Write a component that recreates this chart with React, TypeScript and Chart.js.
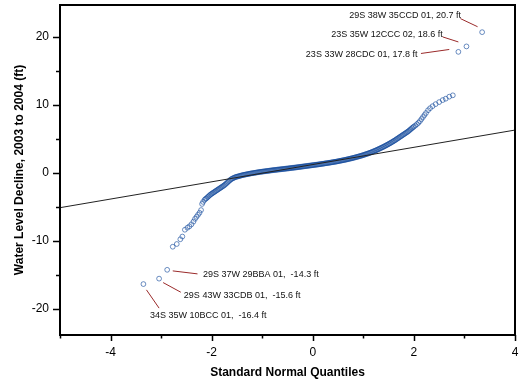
import React, { useEffect, useRef } from 'react';
import { Chart, registerables } from 'chart.js';

Chart.register(...registerables);

const quantilesX = [
  -3.35, -3.04, -2.88, -2.77, -2.69, -2.62, -2.58, -2.53, -2.48, -2.44, -2.40, -2.36, -2.33, -2.30,
  -2.27, -2.24, -2.21, -2.19, -2.17, -2.14, -2.12,
  -2.10, -2.08, -2.06, -2.04, -2.02, -2.00, -1.98, -1.96, -1.94, -1.92, -1.90, -1.88, -1.86, -1.84,
  -1.82, -1.80, -1.78, -1.76, -1.74, -1.72, -1.70, -1.68, -1.66,
  -1.64, -1.62, -1.60, -1.58, -1.56, -1.54, -1.52, -1.50, -1.48, -1.46, -1.44, -1.42, -1.40, -1.38,
  -1.36, -1.34, -1.32, -1.30, -1.28, -1.26, -1.24, -1.22, -1.20, -1.18, -1.16, -1.14, -1.12, -1.10,
  -1.08, -1.06, -1.04, -1.02, -1.00,
  -0.98, -0.96, -0.94, -0.92, -0.90, -0.88, -0.86, -0.84, -0.82, -0.80,
  -0.78, -0.76, -0.74, -0.72, -0.70, -0.68, -0.66, -0.64, -0.62, -0.60,
  -0.58, -0.56, -0.54, -0.52, -0.50, -0.48, -0.46, -0.44, -0.42, -0.40,
  -0.38, -0.36, -0.34, -0.32, -0.30, -0.28, -0.26, -0.24, -0.22, -0.20,
  -0.18, -0.16, -0.14, -0.12, -0.10, -0.08, -0.06, -0.04, -0.02, 0.00,
  0.02, 0.04, 0.06, 0.08, 0.10, 0.12, 0.14, 0.16, 0.18, 0.20,
  0.22, 0.24, 0.26, 0.28, 0.30, 0.32, 0.34, 0.36, 0.38, 0.40,
  0.42, 0.44, 0.46, 0.48, 0.50, 0.52, 0.54, 0.56, 0.58, 0.60,
  0.62, 0.64, 0.66, 0.68, 0.70, 0.72, 0.74, 0.76, 0.78, 0.80,
  0.82, 0.84, 0.86, 0.88, 0.90, 0.92, 0.94, 0.96, 0.98, 1.00,
  1.02, 1.04, 1.06, 1.08, 1.10, 1.12, 1.14, 1.16, 1.18, 1.20,
  1.22, 1.24, 1.26, 1.28, 1.30, 1.32, 1.34, 1.36, 1.38, 1.40,
  1.42, 1.44, 1.46, 1.48, 1.50, 1.52, 1.54, 1.56, 1.58, 1.60,
  1.62, 1.64, 1.66, 1.68, 1.70, 1.72, 1.74, 1.76, 1.78, 1.80,
  1.82, 1.84, 1.86, 1.88, 1.90, 1.92, 1.94, 1.96, 1.98, 2.00,
  2.03, 2.06, 2.09, 2.12, 2.15, 2.18, 2.21, 2.24, 2.28, 2.32, 2.37, 2.43, 2.50, 2.57, 2.63, 2.70,
  2.77, 2.88, 3.04, 3.35,
];
const declineY = [
  -16.4, -15.6, -14.3, -10.9, -10.5, -9.8, -9.4, -8.4, -8.1, -7.9, -7.6, -7.2, -6.8, -6.5,
  -6.2, -5.9, -5.5, -4.6, -4.3, -4.0, -3.85,
  -3.75, -3.6, -3.47, -3.33, -3.2, -3.1, -3.0, -2.9, -2.8, -2.7, -2.6, -2.5, -2.4, -2.3,
  -2.2, -2.1, -2.0, -1.9, -1.78, -1.65, -1.52, -1.38, -1.25,
  -1.12, -0.98, -0.90, -0.82, -0.75, -0.68, -0.62, -0.58, -0.55, -0.50, -0.46, -0.42, -0.38, -0.34,
  -0.31, -0.28, -0.25, -0.22, -0.19, -0.16, -0.13, -0.10, -0.08, -0.05, -0.03, 0.00, 0.02, 0.05,
  0.07, 0.10, 0.12, 0.14, 0.16,
  0.18, 0.20, 0.22, 0.24, 0.26, 0.28, 0.30, 0.32, 0.34, 0.36,
  0.38, 0.40, 0.41, 0.43, 0.45, 0.47, 0.48, 0.50, 0.52, 0.54,
  0.55, 0.57, 0.59, 0.61, 0.62, 0.64, 0.66, 0.68, 0.70, 0.72,
  0.73, 0.75, 0.77, 0.79, 0.81, 0.83, 0.85, 0.87, 0.89, 0.91,
  0.93, 0.95, 0.97, 0.99, 1.01, 1.03, 1.05, 1.07, 1.09, 1.11,
  1.13, 1.15, 1.17, 1.19, 1.21, 1.23, 1.25, 1.28, 1.30, 1.32,
  1.34, 1.37, 1.39, 1.41, 1.43, 1.46, 1.48, 1.51, 1.53, 1.56,
  1.58, 1.61, 1.63, 1.66, 1.69, 1.72, 1.75, 1.78, 1.81, 1.84,
  1.87, 1.90, 1.93, 1.97, 2.00, 2.04, 2.07, 2.11, 2.14, 2.18,
  2.22, 2.26, 2.30, 2.34, 2.38, 2.42, 2.46, 2.51, 2.55, 2.60,
  2.65, 2.70, 2.75, 2.80, 2.85, 2.91, 2.96, 3.02, 3.08, 3.14,
  3.20, 3.27, 3.33, 3.40, 3.47, 3.54, 3.61, 3.68, 3.75, 3.83,
  3.90, 3.98, 4.06, 4.14, 4.22, 4.31, 4.39, 4.48, 4.57, 4.66,
  4.75, 4.85, 4.95, 5.05, 5.15, 5.25, 5.35, 5.45, 5.55, 5.65,
  5.75, 5.85, 5.95, 6.05, 6.17, 6.30, 6.42, 6.55, 6.67, 6.80,
  6.95, 7.15, 7.35, 7.6, 7.9, 8.2, 8.5, 8.8, 9.2, 9.5, 9.8, 10.1, 10.4, 10.7, 10.9, 11.2,
  11.4, 17.8, 18.6, 20.7,
];

// Reference line end points
const refLineX = [-5, 4];
const refLineY = [-5.15, 6.28];

// Axis ticks
const xMajorTicks = [-4, -2, 0, 2, 4];
const xMinorTicks = [-5, -3, -1, 1, 3];
const yMajorTicks = [-20, -10, 0, 10, 20];
const yMinorTicks = [-15, -5, 5, 15];

// Labelled wells
const annotationTexts = [
  '29S 38W 35CCD 01, 20.7 ft',
  '23S 35W 12CCC 02, 18.6 ft',
  '23S 33W 28CDC 01, 17.8 ft',
  '29S 37W 29BBA 01,  -14.3 ft',
  '29S 43W 33CDB 01,  -15.6 ft',
  '34S 35W 10BCC 01,  -16.4 ft',
];

const FONT = '"Liberation Sans", Arial, Helvetica, sans-serif';

// Placement of the labels (data coordinates)
const annotationLayout = [
  { tx: 2.93, ty: 23.2, align: 'right', lx1: 2.92, ly1: 22.7, lx2: 3.26, ly2: 21.5 },
  { tx: 2.57, ty: 20.35, align: 'right', lx1: 2.57, ly1: 20.0, lx2: 2.88, ly2: 19.26 },
  { tx: 2.07, ty: 17.4, align: 'right', lx1: 2.14, ly1: 17.56, lx2: 2.70, ly2: 18.15 },
  { tx: -2.17, ty: -15.04, align: 'left', lx1: -2.77, ly1: -14.46, lx2: -2.28, ly2: -14.9 },
  { tx: -2.55, ty: -18.13, align: 'left', lx1: -2.96, ly1: -16.18, lx2: -2.61, ly2: -17.6 },
  { tx: -3.22, ty: -21.07, align: 'left', lx1: -3.29, ly1: -17.25, lx2: -3.04, ly2: -19.94 },
];

const framePlugin = {
  id: 'frameTicks',
  afterDraw(chart: any) {
    const { ctx, chartArea: a } = chart;
    const x = chart.scales.x;
    const y = chart.scales.y;
    ctx.save();
    ctx.strokeStyle = '#000';
    ctx.lineWidth = 2;
    ctx.strokeRect(a.left, a.top, a.right - a.left, a.bottom - a.top);
    ctx.lineWidth = 1.5;
    ctx.beginPath();
    yMajorTicks.forEach((v) => {
      const p = Math.round(y.getPixelForValue(v)) + 0.5;
      ctx.moveTo(a.left - 7, p);
      ctx.lineTo(a.left, p);
    });
    yMinorTicks.forEach((v) => {
      const p = Math.round(y.getPixelForValue(v)) + 0.5;
      ctx.moveTo(a.left - 4, p);
      ctx.lineTo(a.left, p);
    });
    xMajorTicks.forEach((v) => {
      const p = Math.round(x.getPixelForValue(v)) + 0.5;
      ctx.moveTo(p, a.bottom);
      ctx.lineTo(p, a.bottom + 6);
    });
    xMinorTicks.forEach((v) => {
      const p = Math.round(x.getPixelForValue(v)) + 0.5;
      ctx.moveTo(p, a.bottom);
      ctx.lineTo(p, a.bottom + 3.5);
    });
    ctx.stroke();
    ctx.restore();
  },
};

const annotationPlugin = {
  id: 'wellLabels',
  afterDraw(chart: any) {
    const { ctx } = chart;
    const x = chart.scales.x;
    const y = chart.scales.y;
    ctx.save();
    ctx.font = '9px ' + FONT;
    ctx.fillStyle = '#111';
    ctx.textBaseline = 'middle';
    annotationTexts.forEach((t, i) => {
      const l = annotationLayout[i];
      ctx.textAlign = l.align;
      ctx.fillText(t, x.getPixelForValue(l.tx), y.getPixelForValue(l.ty));
      ctx.strokeStyle = '#9a2a2a';
      ctx.lineWidth = 1;
      ctx.beginPath();
      ctx.moveTo(x.getPixelForValue(l.lx1), y.getPixelForValue(l.ly1));
      ctx.lineTo(x.getPixelForValue(l.lx2), y.getPixelForValue(l.ly2));
      ctx.stroke();
    });
    ctx.restore();
  },
};

export default function App() {
  const ref = useRef<HTMLCanvasElement | null>(null);
  useEffect(() => {
    if (!ref.current) return;
    const points = quantilesX.map((q, i) => ({ x: q, y: declineY[i] }));
    const line = refLineX.map((q, i) => ({ x: q, y: refLineY[i] }));
    const chart = new Chart(ref.current, {
      type: 'scatter',
      data: {
        datasets: [
          {
            type: 'line',
            data: line,
            borderColor: '#222',
            borderWidth: 1,
            pointRadius: 0,
            fill: false,
            order: 0,
          } as any,
          {
            type: 'scatter',
            data: points,
            borderColor: 'rgba(18,72,155,0.62)',
            backgroundColor: 'rgba(0,0,0,0)',
            borderWidth: 1,
            pointRadius: 2.4,
            order: 1,
          },
        ],
      },
      options: {
        responsive: false,
        animation: false,
        layout: { padding: { left: 0, right: 15, top: 5, bottom: 0 } },
        plugins: { legend: { display: false }, tooltip: { enabled: false } },
        scales: {
          x: {
            type: 'linear',
            min: -5,
            max: 4,
            grid: { display: false, drawTicks: true, tickLength: 6 },
            border: { display: false },
            ticks: {
              includeBounds: false,
              color: '#000',
              padding: 4,
              maxRotation: 0,
              font: { size: 12, family: FONT },
            },
            afterBuildTicks: (s: any) => {
              s.ticks = xMajorTicks.map((v) => ({ value: v }));
            },
            afterFit: (s: any) => {
              s.height = 46;
              s.paddingLeft = 0;
              s.paddingRight = 0;
            },
            title: {
              display: true,
              text: 'Standard Normal Quantiles',
              color: '#000',
              font: { size: 12, weight: 'bold', family: FONT },
              padding: { top: 0, bottom: 1 },
            },
          },
          y: {
            type: 'linear',
            min: -23.9,
            max: 24.7,
            grid: { display: false, drawTicks: true, tickLength: 7 },
            border: { display: false },
            ticks: {
              includeBounds: false,
              color: '#000',
              padding: 4,
              font: { size: 12, family: FONT },
            },
            afterBuildTicks: (s: any) => {
              s.ticks = yMajorTicks.map((v) => ({ value: v }));
            },
            afterFit: (s: any) => {
              s.width = 60;
              s.paddingTop = 0;
              s.paddingBottom = 0;
            },
            title: {
              display: true,
              text: 'Water Level Decline, 2003 to 2004 (ft)',
              color: '#000',
              font: { size: 12, weight: 'bold', family: FONT },
              padding: { top: 12, bottom: 0 },
            },
          },
        },
      },
      plugins: [framePlugin, annotationPlugin],
    });
    return () => chart.destroy();
  }, []);
  return (
    <div style={{ position: 'absolute', left: 0, top: 0, width: 530, height: 381, background: '#fff' }}>
      <canvas ref={ref} width={530} height={381} />
    </div>
  );
}
